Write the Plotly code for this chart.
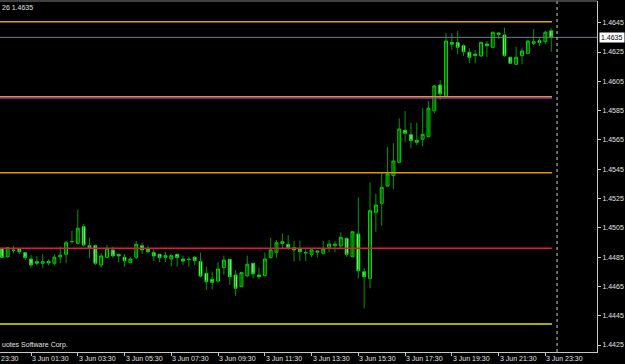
import plotly.graph_objects as go
import pandas as pd

# ---- data -------------------------------------------------------------
TIMES = pd.date_range("2009-06-03 00:15", periods=95, freq="15min")

OPEN = [1.44910, 1.44853, 1.44899, 1.44905, 1.44880, 1.44837, 1.44819, 1.44808, 1.44820, 1.44808,
        1.44851, 1.44869, 1.44955, 1.44944, 1.45058, 1.44928, 1.44928, 1.44796, 1.44849, 1.44899,
        1.44869, 1.44849, 1.44812, 1.44849, 1.44928, 1.44905, 1.44880, 1.44869, 1.44860, 1.44837,
        1.44869, 1.44837, 1.44835, 1.44849, 1.44819, 1.44739, 1.44698, 1.44687, 1.44778, 1.44835,
        1.44728, 1.44648, 1.44723, 1.44808, 1.44728, 1.44723, 1.44846, 1.44883, 1.44955, 1.44937,
        1.44914, 1.44905, 1.44881, 1.44869, 1.44892, 1.44876, 1.44917, 1.44928, 1.44926, 1.44978,
        1.44853, 1.45008, 1.44750, 1.44705, 1.45156, 1.45217, 1.45335, 1.45406, 1.45497, 1.45716,
        1.45686, 1.45647, 1.45654, 1.45672, 1.45849, 1.46025, 1.45945, 1.46316, 1.46314, 1.46293,
        1.46248, 1.46236, 1.46223, 1.46305, 1.46282, 1.46380, 1.46366, 1.46214, 1.46166, 1.46225,
        1.46241, 1.46309, 1.46327, 1.46320, 1.46395]

HIGH = [1.44910, 1.44914, 1.44928, 1.44905, 1.44887, 1.44864, 1.44858, 1.44869, 1.44835, 1.44869,
        1.44921, 1.44960, 1.45028, 1.45172, 1.45076, 1.44982, 1.44937, 1.44876, 1.44933, 1.44921,
        1.44869, 1.44871, 1.44849, 1.44960, 1.44948, 1.44928, 1.44905, 1.44869, 1.44887, 1.44869,
        1.44869, 1.44860, 1.44853, 1.44858, 1.44880, 1.44785, 1.44750, 1.44819, 1.44860, 1.44835,
        1.44762, 1.44750, 1.44860, 1.44808, 1.44778, 1.44880, 1.44982, 1.44967, 1.45012, 1.45001,
        1.44960, 1.44960, 1.44914, 1.44905, 1.44892, 1.44960, 1.44967, 1.44960, 1.45019, 1.44985,
        1.45028, 1.45258, 1.44774, 1.45358, 1.45281, 1.45422, 1.45600, 1.45627, 1.45797, 1.45847,
        1.45767, 1.45767, 1.45866, 1.45916, 1.46025, 1.46059, 1.46378, 1.46378, 1.46393, 1.46303,
        1.46275, 1.46264, 1.46320, 1.46325, 1.46389, 1.46382, 1.46416, 1.46216, 1.46286, 1.46279,
        1.46332, 1.46407, 1.46350, 1.46395, 1.46412]

LOW = [1.44849, 1.44846, 1.44876, 1.44869, 1.44830, 1.44778, 1.44794, 1.44774, 1.44794, 1.44794,
       1.44808, 1.44808, 1.44944, 1.44937, 1.44921, 1.44842, 1.44796, 1.44778, 1.44842, 1.44846,
       1.44815, 1.44785, 1.44808, 1.44835, 1.44871, 1.44876, 1.44823, 1.44815, 1.44815, 1.44785,
       1.44785, 1.44796, 1.44785, 1.44796, 1.44712, 1.44625, 1.44630, 1.44675, 1.44728, 1.44660,
       1.44585, 1.44644, 1.44712, 1.44705, 1.44701, 1.44721, 1.44842, 1.44846, 1.44910, 1.44899,
       1.44819, 1.44823, 1.44823, 1.44849, 1.44846, 1.44869, 1.44883, 1.44883, 1.44910, 1.44853,
       1.44849, 1.44705, 1.44500, 1.44637, 1.45023, 1.45064, 1.45331, 1.45315, 1.45490, 1.45634,
       1.45593, 1.45615, 1.45604, 1.45668, 1.45832, 1.45922, 1.45938, 1.46264, 1.46234, 1.46223,
       1.46173, 1.46173, 1.46218, 1.46214, 1.46275, 1.46337, 1.46218, 1.46171, 1.46166, 1.46166,
       1.46234, 1.46298, 1.46291, 1.46303, 1.46252]

CLOSE = [1.44849, 1.44914, 1.44895, 1.44887, 1.44846, 1.44796, 1.44808, 1.44819, 1.44810, 1.44849,
         1.44864, 1.44948, 1.44956, 1.45047, 1.44933, 1.44914, 1.44808, 1.44858, 1.44910, 1.44858,
         1.44858, 1.44825, 1.44837, 1.44937, 1.44899, 1.44887, 1.44858, 1.44846, 1.44849, 1.44860,
         1.44846, 1.44823, 1.44834, 1.44825, 1.44721, 1.44682, 1.44678, 1.44769, 1.44830, 1.44716,
         1.44637, 1.44744, 1.44801, 1.44735, 1.44716, 1.44837, 1.44899, 1.44948, 1.44944, 1.44914,
         1.44899, 1.44887, 1.44879, 1.44899, 1.44885, 1.44905, 1.44939, 1.44939, 1.44985, 1.44869,
         1.45023, 1.44757, 1.44716, 1.45167, 1.45206, 1.45326, 1.45417, 1.45506, 1.45724, 1.45695,
         1.45645, 1.45634, 1.45688, 1.45866, 1.46018, 1.45963, 1.46325, 1.46303, 1.46282, 1.46252,
         1.46214, 1.46225, 1.46316, 1.46293, 1.46385, 1.46369, 1.46225, 1.46173, 1.46214, 1.46257,
         1.46325, 1.46320, 1.46314, 1.46385, 1.46350]

LEVELS = [1.46457, 1.45945, 1.45936, 1.45426, 1.44910, 1.44393]
LEVEL_COLORS = ["#d8a800", "#d8a800", "#9b30d0", "#e09800", "#e8163c", "#e6e600"]

Y_TICKS = [1.4425, 1.4445, 1.4465, 1.4485, 1.4505, 1.4525, 1.4545, 1.4565, 1.4585, 1.4605, 1.4625, 1.4645]
X_TICKS = ["2009-06-02 23:30", "2009-06-03 01:30", "2009-06-03 03:30", "2009-06-03 05:30",
           "2009-06-03 07:30", "2009-06-03 09:30", "2009-06-03 11:30", "2009-06-03 13:30",
           "2009-06-03 15:30", "2009-06-03 17:30", "2009-06-03 19:30", "2009-06-03 21:30",
           "2009-06-03 23:30"]
SEPARATOR = "2009-06-04 00:00"
HEADER_TEXT = "26 1.4635"
COPYRIGHT_TEXT = "uotes Software Corp."

# ---- styling constants -----------------------------------------------
X_RANGE = ["2009-06-03 00:10:23", "2009-06-04 01:42:30"]
Y_RANGE = [1.442022, 1.465981]
FONT = "Liberation Sans, Arial, sans-serif"
TXT = "#e0e0e0"
AXIS = "#c8c8c8"

fig = go.Figure()

# wicks
wx, wy = [], []
for t, h, l in zip(TIMES, HIGH, LOW):
    wx += [t, t, None]
    wy += [l, h, None]
fig.add_trace(go.Scatter(x=wx, y=wy, mode="lines",
                         line=dict(color="#009a00", width=1),
                         hoverinfo="skip", showlegend=False))

# bodies
body_hi = [max(o, c) for o, c in zip(OPEN, CLOSE)]
body_lo = [min(o, c) for o, c in zip(OPEN, CLOSE)]
fig.add_trace(go.Candlestick(
    x=TIMES, open=OPEN, high=body_hi, low=body_lo, close=CLOSE,
    increasing=dict(fillcolor="#000000", line=dict(color="#00e000", width=1)),
    decreasing=dict(fillcolor="#eaffea", line=dict(color="#00e000", width=1)),
    hoverinfo="skip", showlegend=False))

shapes = []
for val, col in zip(LEVELS, LEVEL_COLORS):
    shapes.append(dict(type="line", xref="x", yref="y", x0=X_RANGE[0],
                       x1=TIMES[-1] + pd.Timedelta(minutes=2), y0=val, y1=val,
                       line=dict(color=col, width=1.5)))
# bid line
shapes.append(dict(type="line", xref="paper", yref="y", x0=0, x1=1,
                   y0=CLOSE[-1], y1=CLOSE[-1], line=dict(color="#6f7c88", width=1)))
# day separator
shapes.append(dict(type="line", xref="x", yref="paper", x0=SEPARATOR, x1=SEPARATOR,
                   y0=0, y1=1, line=dict(color="#d0d0d0", width=1, dash="dot")))
# top frame
shapes.append(dict(type="line", xref="paper", yref="paper", x0=0, x1=1, y0=1, y1=1,
                   line=dict(color="#808080", width=1)))

# tick labels as paper-positioned annotations (left-aligned at tick, like MT4)
x0r = pd.Timestamp(X_RANGE[0])
x1r = pd.Timestamp(X_RANGE[1])
annotations = []
for t in X_TICKS:
    ts = pd.Timestamp(t)
    frac = (ts - x0r) / (x1r - x0r)
    if frac < 0:
        # label of a tick left of the window: only its visible tail shows
        annotations.append(dict(x=0, xref="paper", y=0, yref="paper", xanchor="left",
                                yanchor="top", text=f"{ts:%H:%M}", showarrow=False,
                                yshift=-1, xshift=-1, font=dict(family=FONT, size=7, color=TXT)))
        continue
    annotations.append(dict(x=frac, xref="paper", y=0, yref="paper", xanchor="left",
                            yanchor="top", text=f"{ts.day} Jun {ts:%H:%M}", showarrow=False,
                            yshift=-1, xshift=-1, font=dict(family=FONT, size=7, color=TXT)))
annotations.append(dict(x=1, xref="paper", y=CLOSE[-1], yref="y", xanchor="left",
                        yanchor="middle", text=f"{CLOSE[-1]:.4f}", showarrow=False,
                        xshift=2, bgcolor="#ffffff", borderpad=1,
                        font=dict(family=FONT, size=7, color="#000000")))
annotations.append(dict(x=0, xref="paper", y=1, yref="paper", xanchor="left", yanchor="top",
                        text=HEADER_TEXT, showarrow=False, yshift=-1,
                        font=dict(family=FONT, size=7, color=TXT)))
annotations.append(dict(x=0, xref="paper", y=0, yref="paper", xanchor="left", yanchor="bottom",
                        text=COPYRIGHT_TEXT, showarrow=False, yshift=1,
                        font=dict(family=FONT, size=7, color=TXT)))

fig.update_layout(
    width=625, height=364,
    margin=dict(l=0, r=28, t=1, b=12, pad=0),
    paper_bgcolor="#000000", plot_bgcolor="#000000",
    showlegend=False, shapes=shapes, annotations=annotations,
    hovermode=False,
)
fig.update_xaxes(type="date", range=X_RANGE, showgrid=False, zeroline=False,
                 showline=True, linecolor=AXIS, linewidth=1,
                 ticks="outside", ticklen=3, tickcolor=AXIS,
                 tickvals=X_TICKS[1:], showticklabels=False,
                 rangeslider=dict(visible=False))
fig.update_yaxes(side="right", range=Y_RANGE, showgrid=False, zeroline=False,
                 showline=True, linecolor=AXIS, linewidth=1,
                 ticks="outside", ticklen=3, tickcolor=AXIS,
                 tickvals=Y_TICKS, ticktext=[f"{v:.4f}" for v in Y_TICKS],
                 tickfont=dict(family=FONT, size=7, color=TXT))

fig.write_html("out.html")
